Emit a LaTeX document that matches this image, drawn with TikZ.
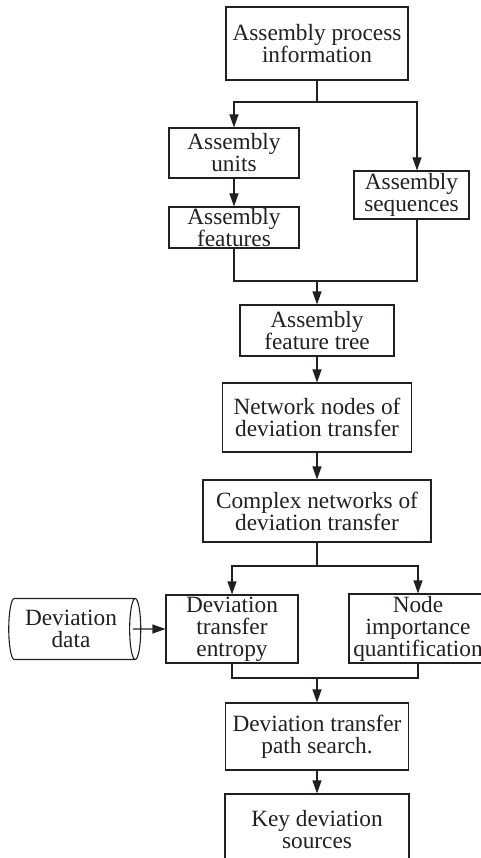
\documentclass[tikz,border=0pt]{standalone}
\usepackage{fontspec}
\setmainfont{Liberation Serif}
\usetikzlibrary{arrows.meta,shapes.geometric}
\definecolor{ink}{RGB}{35,31,32}
\begin{document}
\begin{tikzpicture}[x=1pt,y=-1pt,
    box/.style={draw=ink,line width=1.1pt,align=center,inner sep=1pt,text=ink,
      font=\fontsize{23.3}{22}\selectfont},
    cyl/.style={box,cylinder,shape aspect=0.28},
    arr/.style={draw=ink,line width=1.1pt,-{Triangle[length=13pt,width=9pt]}},
    ln/.style={draw=ink,line width=1.1pt}]
  \useasboundingbox (0,0) rectangle (480,858);
  \draw
    (317,43.5) node[box,minimum width=182pt,minimum height=73pt] (info){Assembly process\\information}
    (234,153) node[box,minimum width=130pt,minimum height=50pt] (units){Assembly\\units}
    (234,227.5) node[box,minimum width=130pt,minimum height=41pt] (feat){Assembly\\features}
    (411.5,195) node[box,minimum width=115pt,minimum height=48pt] (seq){Assembly\\sequences}
    (317,330.5) node[box,minimum width=154pt,minimum height=51pt] (tree){Assembly\\feature tree}
    (317,417.5) node[box,minimum width=189pt,minimum height=69pt] (nodes){Network nodes of\\deviation transfer}
    (317,511) node[box,minimum width=228pt,minimum height=62pt] (net){Complex networks of\\deviation transfer}
    (232,629) node[box,minimum width=132pt,minimum height=68pt] (entropy){Deviation\\transfer\\entropy}
    (418,628.5) node[box,minimum width=138pt,minimum height=69pt] (imp){Node\\importance\\quantification}
    (71,629) node[cyl,minimum width=61pt,minimum height=132pt] (data){Deviation\\data}
    (317,736.5) node[box,minimum width=183pt,minimum height=67pt] (path){Deviation transfer\\path search.}
    (317,830) node[box,minimum width=184pt,minimum height=72pt] (key){Key deviation\\sources};
  \coordinate (s1) at (317,102);
  \coordinate (m1) at (317,281);
  \coordinate (s2) at (317,566);
  \coordinate (m2) at (317,678);
  \begin{scope}[ln]
    \draw (info) -- (s1);
    \draw[arr] (s1) -| (units.north);
    \draw[arr] (s1) -| ([xshift=5.5pt]seq.north);
    \draw[arr] (units) -- (feat);
    \draw (feat.south) |- (m1);
    \draw ([xshift=5.5pt]seq.south) |- (m1);
    \draw[arr] (m1) -- (tree);
    \draw[arr] (tree) -- (nodes);
    \draw[arr] (nodes) -- (net);
    \draw (net) -- (s2);
    \draw[arr] (s2) -| (entropy.north);
    \draw[arr] (s2) -| (imp.north);
    \draw[arr] ([xshift=-8.5pt]data.east) -- (entropy);
    \draw (entropy.south) |- (m2);
    \draw (imp.south) |- (m2);
    \draw[arr] (m2) -- (path);
    \draw[arr] (path) -- (key);
  \end{scope}
\end{tikzpicture}
\end{document}
